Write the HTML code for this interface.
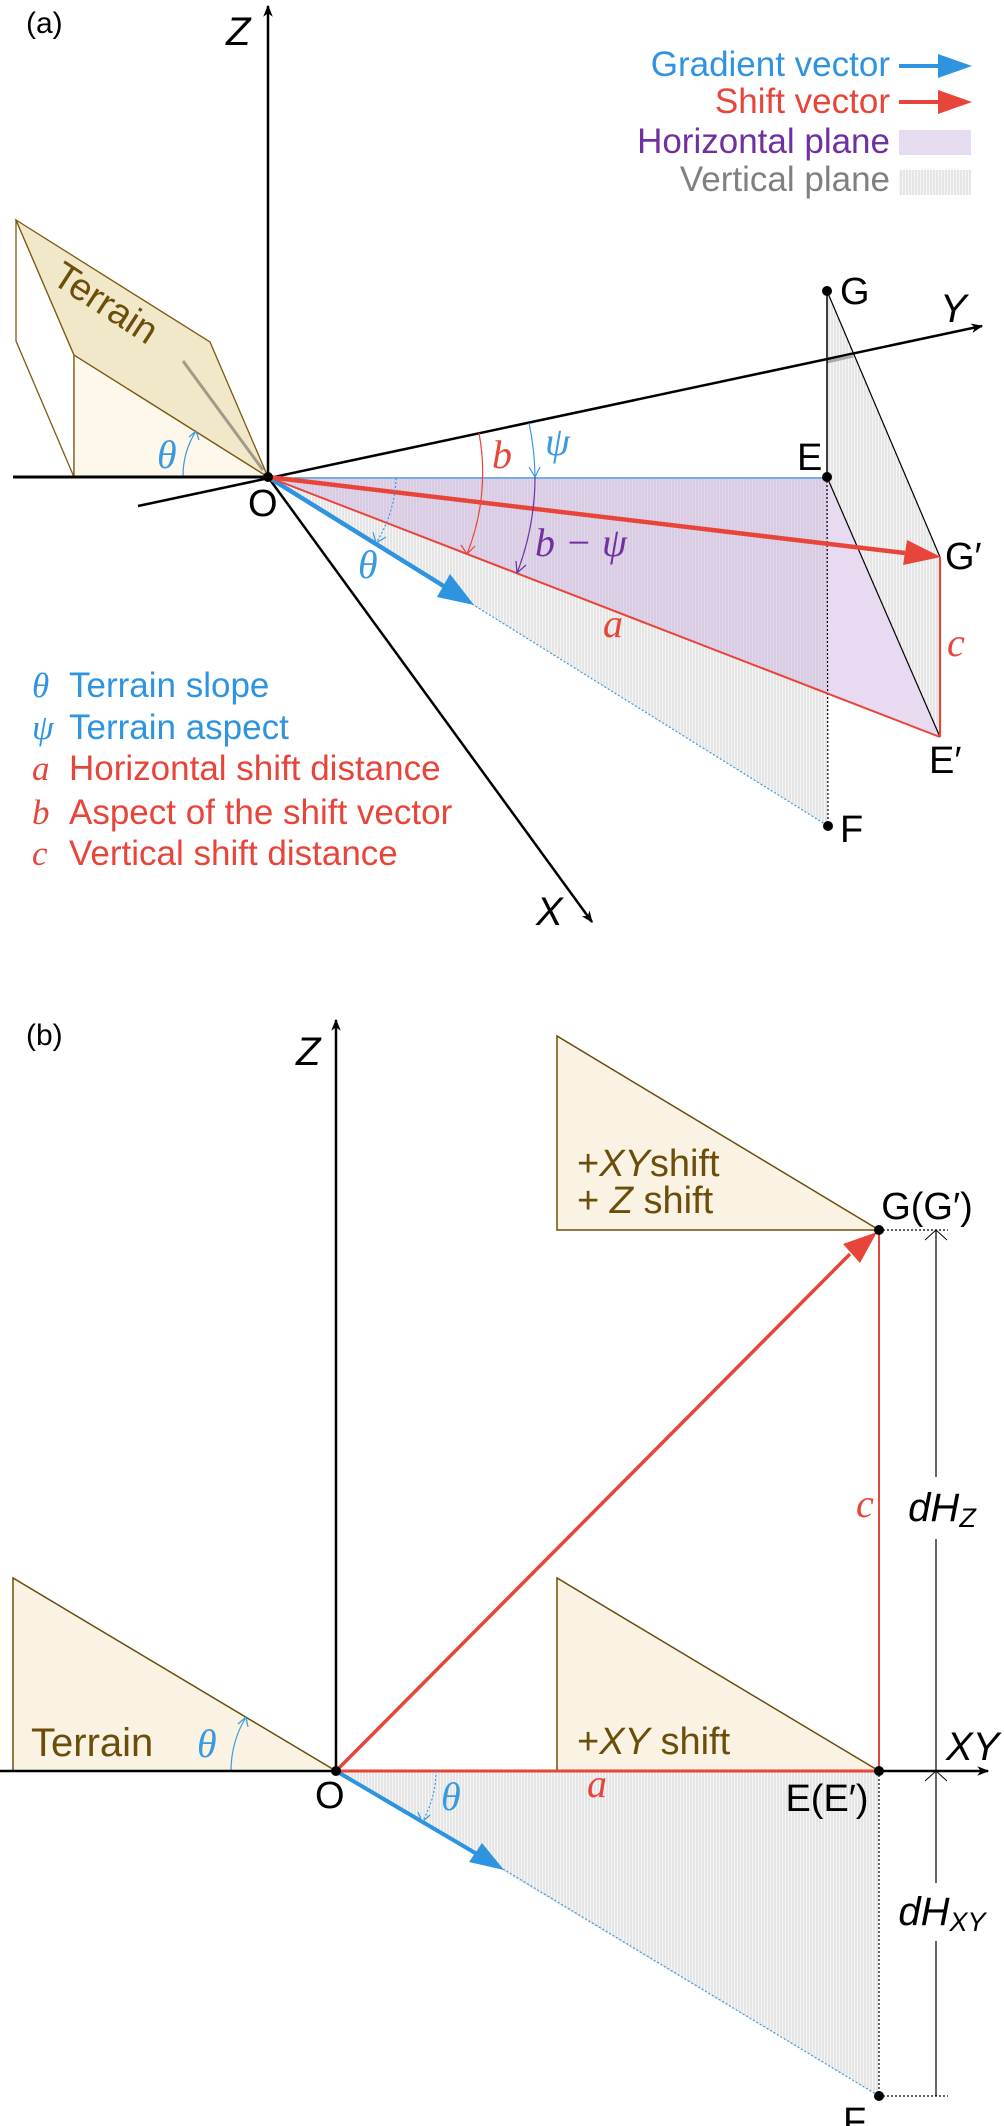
<!DOCTYPE html>
<html><head><meta charset="utf-8"><style>
html,body{margin:0;padding:0;background:#fff}
svg{display:block}
text{font-family:"Liberation Sans",sans-serif}
.g{font-family:"Liberation Serif",serif;font-style:italic}
</style></head><body>
<svg width="1004" height="2126" viewBox="0 0 1004 2126" xmlns="http://www.w3.org/2000/svg">
<defs>
<pattern id="h" width="3" height="10" patternUnits="userSpaceOnUse">
<rect width="3" height="10" fill="#f6f6f6"/><line x1="1" y1="0" x2="1" y2="10" stroke="#d4d4d4" stroke-width="1"/>
</pattern>
<marker id="ab" viewBox="0 0 10 10" refX="9" refY="5" markerWidth="12" markerHeight="12" orient="auto" markerUnits="userSpaceOnUse"><path d="M0,1 L10,5 L0,9 L3,5Z" fill="#000"/></marker>
</defs>

<!-- ============ PANEL A ============ -->
<text x="26" y="33" font-size="30">(a)</text>

<polygon points="16,220 16,341 74,477 74,355" fill="#fff" stroke="#7a5a10" stroke-width="1.3"/>
<polygon points="74,355 268,477 74,477" fill="#fdf8eb" stroke="#7a5a10" stroke-width="1.3"/>
<polygon points="16,220 210,342 268,477 74,355" fill="#f1e7c9" stroke="#7a5a10" stroke-width="1.3"/>
<line x1="183" y1="361" x2="263" y2="470" stroke="#a09a88" stroke-width="3"/>
<text x="0" y="0" font-size="38" fill="#6b4e0a" transform="translate(50,282) rotate(33)">Terrain</text>
<path d="M183,477 A85,85 0 0 1 196,431" fill="none" stroke="#3a9ae0" stroke-width="1.2"/>
<path d="M189,437 L196,431 L199,440" fill="none" stroke="#3a9ae0" stroke-width="1.2"/>
<text x="157" y="468" font-size="40" class="g" fill="#3a9ae0">θ</text>

<polygon points="827,291 940,557 940,737 827,477" fill="url(#h)"/>
<polygon points="268,477 827,477 828,826" fill="url(#h)"/>
<polygon points="268,477 827,477 940,737" fill="#c9aee0" fill-opacity="0.45"/>

<line x1="13" y1="477" x2="268" y2="477" stroke="#000" stroke-width="3"/>
<line x1="268" y1="477" x2="268" y2="6" stroke="#000" stroke-width="2.5" marker-end="url(#ab)"/>
<text x="226" y="45" font-size="40" font-style="italic">Z</text>
<line x1="138" y1="506" x2="982" y2="326" stroke="#000" stroke-width="2.5" marker-end="url(#ab)"/>
<line x1="827" y1="362" x2="853" y2="356" stroke="#aaa" stroke-width="3"/>
<text x="940" y="322" font-size="40" font-style="italic">Y</text>
<line x1="268" y1="477" x2="592" y2="922" stroke="#000" stroke-width="2.5" marker-end="url(#ab)"/>
<text x="536" y="925" font-size="40" font-style="italic">X</text>

<line x1="827" y1="291" x2="827" y2="477" stroke="#000" stroke-width="1.5"/>
<line x1="827" y1="291" x2="940" y2="557" stroke="#000" stroke-width="1.2"/>
<line x1="827" y1="477" x2="940" y2="737" stroke="#000" stroke-width="1.2"/>
<line x1="827" y1="477" x2="828" y2="826" stroke="#000" stroke-width="1.2" stroke-dasharray="2,2"/>

<line x1="268" y1="478" x2="827" y2="478" stroke="#3a9ae0" stroke-width="1.3"/>
<line x1="472" y1="604" x2="828" y2="826" stroke="#3a9ae0" stroke-width="1.2" stroke-dasharray="2,2"/>
<line x1="268" y1="477" x2="450" y2="590" stroke="#2f94e0" stroke-width="4.5"/>
<polygon points="474,605 437,597 450,574" fill="#2f94e0"/>

<line x1="268" y1="477" x2="940" y2="737" stroke="#e8453a" stroke-width="2"/>
<line x1="940" y1="557" x2="940" y2="737" stroke="#e8453a" stroke-width="2.2"/>
<line x1="268" y1="477" x2="905" y2="553" stroke="#e8453a" stroke-width="4.5"/>
<polygon points="941,557 903,565 907,540" fill="#e8453a"/>

<path d="M479,433 A218,218 0 0 1 467,554" fill="none" stroke="#e8453a" stroke-width="1.2"/>
<path d="M461,545 L467,554 L475,546" fill="none" stroke="#e8453a" stroke-width="1.2"/>
<text x="492" y="468" font-size="40" class="g" fill="#e8453a">b</text>
<path d="M529,423 A268,268 0 0 1 535,477" fill="none" stroke="#3a9ae0" stroke-width="1.2"/>
<path d="M529,467 L535,477 L540,467" fill="none" stroke="#3a9ae0" stroke-width="1.2"/>
<text x="545" y="455" font-size="40" class="g" fill="#3a9ae0">ψ</text>
<path d="M535,477 A268,268 0 0 1 517,573" fill="none" stroke="#7030a0" stroke-width="1.2"/>
<path d="M516,561 L517,573 L526,565" fill="none" stroke="#7030a0" stroke-width="1.2"/>
<text x="535" y="556" font-size="40" class="g" fill="#7030a0">b − ψ</text>
<path d="M396,478 A128,128 0 0 1 376,543" fill="none" stroke="#3a9ae0" stroke-width="1.2" stroke-dasharray="2,2"/>
<path d="M373,532 L376,543 L386,537" fill="none" stroke="#3a9ae0" stroke-width="1.2"/>
<text x="358" y="578" font-size="40" class="g" fill="#3a9ae0">θ</text>
<text x="603" y="637" font-size="40" class="g" fill="#e8453a">a</text>
<text x="947" y="656" font-size="40" class="g" fill="#e8453a">c</text>

<circle cx="268" cy="477" r="5"/>
<circle cx="827" cy="291" r="5"/>
<circle cx="827" cy="477" r="5"/>
<circle cx="828" cy="826" r="5"/>
<g font-size="38">
<text x="248" y="516">O</text>
<text x="840" y="304">G</text>
<text x="797" y="470">E</text>
<text x="840" y="842">F</text>
<text x="945" y="569">G′</text>
<text x="929" y="773">E′</text>
</g>

<g font-size="35" text-anchor="end">
<text x="890" y="76" fill="#2f94e0">Gradient vector</text>
<text x="890" y="113" fill="#e8453a">Shift vector</text>
<text x="890" y="153" fill="#7030a0">Horizontal plane</text>
<text x="890" y="191" fill="#808080">Vertical plane</text>
</g>
<line x1="899" y1="66" x2="945" y2="66" stroke="#2f94e0" stroke-width="4"/>
<polygon points="972,66 938,54 938,78" fill="#2f94e0"/>
<line x1="899" y1="102" x2="945" y2="102" stroke="#e8453a" stroke-width="4"/>
<polygon points="972,102 938,90 938,114" fill="#e8453a"/>
<rect x="899" y="130" width="72" height="25" fill="#e6dcf0"/>
<rect x="899" y="170" width="72" height="25" fill="url(#h)"/>

<g font-size="35">
<text x="32" y="697" class="g" fill="#2f94e0">θ</text><text x="69" y="697" fill="#2f94e0">Terrain slope</text>
<text x="32" y="739" class="g" fill="#2f94e0">ψ</text><text x="69" y="739" fill="#2f94e0">Terrain aspect</text>
<text x="32" y="780" class="g" fill="#e8453a">a</text><text x="69" y="780" fill="#e8453a">Horizontal shift distance</text>
<text x="32" y="824" class="g" fill="#e8453a">b</text><text x="69" y="824" fill="#e8453a">Aspect of the shift vector</text>
<text x="32" y="865" class="g" fill="#e8453a">c</text><text x="69" y="865" fill="#e8453a">Vertical shift distance</text>
</g>

<!-- ============ PANEL B ============ -->
<text x="26" y="1045" font-size="30">(b)</text>

<polygon points="336,1771 879,1771 879,2096" fill="url(#h)"/>
<polygon points="13,1578 13,1771 336,1771" fill="#faf3e4" stroke="#6b4e0a" stroke-width="1.5"/>
<polygon points="557,1578 557,1771 879,1771" fill="#faf3e4" stroke="#6b4e0a" stroke-width="1.5"/>
<polygon points="557,1036 557,1230 879,1230" fill="#faf3e4" stroke="#6b4e0a" stroke-width="1.5"/>
<text x="31" y="1756" font-size="40" fill="#6b4e0a">Terrain</text>
<text x="577" y="1176" font-size="38" fill="#6b4e0a">+<tspan font-style="italic">XY</tspan>shift</text>
<text x="577" y="1213" font-size="38" fill="#6b4e0a">+ <tspan font-style="italic">Z</tspan>  shift</text>
<text x="577" y="1754" font-size="38" fill="#6b4e0a">+<tspan font-style="italic">XY</tspan> shift</text>

<path d="M231,1771 A105,105 0 0 1 246,1717" fill="none" stroke="#3a9ae0" stroke-width="1.2"/>
<path d="M238,1724 L246,1717 L248,1727" fill="none" stroke="#3a9ae0" stroke-width="1.2"/>
<text x="197" y="1757" font-size="40" class="g" fill="#3a9ae0">θ</text>

<line x1="0" y1="1771" x2="336" y2="1771" stroke="#000" stroke-width="2.5"/>
<line x1="336" y1="1771" x2="988" y2="1771" stroke="#000" stroke-width="2.5" marker-end="url(#ab)"/>
<line x1="336" y1="1771" x2="336" y2="1020" stroke="#000" stroke-width="2.5" marker-end="url(#ab)"/>
<text x="296" y="1065" font-size="40" font-style="italic">Z</text>
<text x="946" y="1760" font-size="40" font-style="italic">XY</text>

<line x1="336" y1="1771" x2="879" y2="1771" stroke="#e8453a" stroke-width="3"/>
<line x1="879" y1="1230" x2="879" y2="1771" stroke="#e8453a" stroke-width="2"/>
<line x1="336" y1="1771" x2="850" y2="1254" stroke="#e8453a" stroke-width="3.5"/>
<polygon points="877,1232 843,1244 860,1263" fill="#e8453a"/>

<line x1="503" y1="1869" x2="879" y2="2096" stroke="#3a9ae0" stroke-width="1.2" stroke-dasharray="2,2"/>
<line x1="336" y1="1771" x2="482" y2="1857" stroke="#2f94e0" stroke-width="4"/>
<polygon points="504,1870 469,1862 482,1843" fill="#2f94e0"/>
<path d="M436,1771 A100,100 0 0 1 422,1822" fill="none" stroke="#3a9ae0" stroke-width="1.2" stroke-dasharray="2,2"/>
<path d="M418,1812 L422,1822 L430,1815" fill="none" stroke="#3a9ae0" stroke-width="1.2"/>
<text x="441" y="1810" font-size="40" class="g" fill="#3a9ae0">θ</text>
<text x="587" y="1797" font-size="40" class="g" fill="#e8453a">a</text>
<text x="856" y="1517" font-size="40" class="g" fill="#e8453a">c</text>

<line x1="879" y1="1771" x2="879" y2="2096" stroke="#000" stroke-width="1.2" stroke-dasharray="2,2"/>
<line x1="879" y1="1230" x2="948" y2="1230" stroke="#000" stroke-width="1.2" stroke-dasharray="2,2"/>
<line x1="879" y1="2096" x2="948" y2="2096" stroke="#000" stroke-width="1.2" stroke-dasharray="2,2"/>
<line x1="936" y1="1230" x2="936" y2="1477" stroke="#000" stroke-width="1.2"/>
<line x1="936" y1="1539" x2="936" y2="1883" stroke="#000" stroke-width="1.2"/>
<line x1="936" y1="1941" x2="936" y2="2096" stroke="#000" stroke-width="1.2"/>
<path d="M925,1240 L936,1230 L947,1240" fill="none" stroke="#000" stroke-width="1"/>
<path d="M925,1781 L936,1771 L947,1781" fill="none" stroke="#000" stroke-width="1"/>
<text x="942" y="1521" font-size="40" font-style="italic" text-anchor="middle">dH<tspan font-size="27" dy="6">Z</tspan></text>
<text x="942" y="1925" font-size="40" font-style="italic" text-anchor="middle">dH<tspan font-size="27" dy="6">XY</tspan></text>

<circle cx="336" cy="1771" r="5"/>
<circle cx="879" cy="1230" r="5"/>
<circle cx="879" cy="1771" r="5"/>
<circle cx="879" cy="2096" r="5"/>
<g font-size="38">
<text x="315" y="1808">O</text>
<text x="927" y="1219" text-anchor="middle">G(G′)</text>
<text x="827" y="1811" text-anchor="middle">E(E′)</text>
<text x="843" y="2134">F</text>
</g>
</svg>
</body></html>
